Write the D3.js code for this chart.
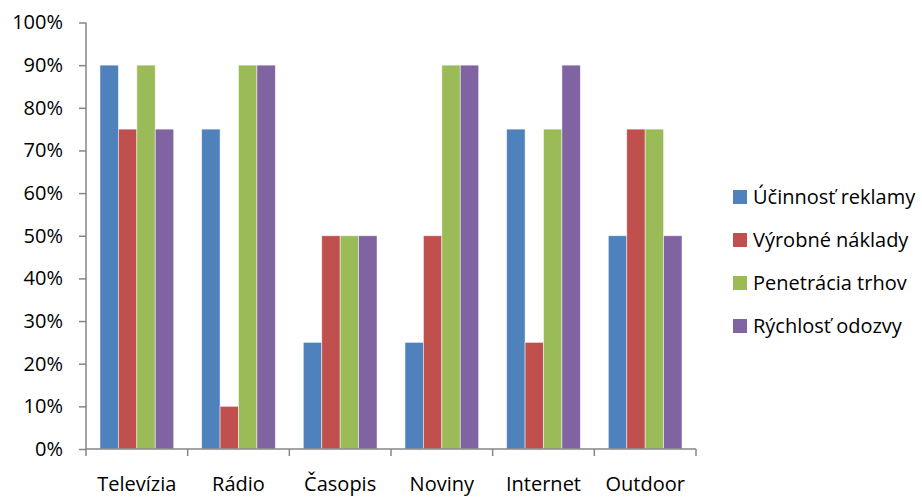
<!DOCTYPE html>
<html>
<head>
<meta charset="utf-8">
<script src="https://cdn.jsdelivr.net/npm/d3@7"></script>
<style>
  body { margin: 0; background: #fff; }
  svg text { font-family: "Open Sans", Lato, sans-serif; fill: #000; }
</style>
</head>
<body>
<svg id="chart" width="922" height="497"></svg>
<script>
const categories = ["Televízia", "Rádio", "Časopis", "Noviny", "Internet", "Outdoor"];
const seriesNames = ["Účinnosť reklamy", "Výrobné náklady", "Penetrácia trhov", "Rýchlosť odozvy"];
const seriesColors = ["#4F81BD", "#C0504D", "#9BBB59", "#8064A2"];
const ucinnost  = [0.90, 0.75, 0.25, 0.25, 0.75, 0.50];
const naklady   = [0.75, 0.10, 0.50, 0.50, 0.25, 0.75];
const penetracia = [0.90, 0.90, 0.50, 0.90, 0.75, 0.75];
const odozva    = [0.75, 0.90, 0.50, 0.90, 0.90, 0.50];
const yTicks = [0, 0.1, 0.2, 0.3, 0.4, 0.5, 0.6, 0.7, 0.8, 0.9, 1.0];

const seriesValues = [ucinnost, naklady, penetracia, odozva];
const rows = categories.map((c, i) => ({ cat: c, vals: seriesValues.map(s => s[i]) }));

const svg = d3.select("#chart");
const plotLeft = 86, plotRight = 696, plotTop = 22.5, plotBottom = 449;
const axisColor = "#868686";
const fontFamily = "'Open Sans', Lato, sans-serif";

const x = d3.scaleBand().domain(categories).range([plotLeft, plotRight]).paddingInner(0).paddingOuter(0);
const inner = d3.scaleBand().domain(d3.range(seriesNames.length)).range([0, x.bandwidth()]).paddingOuter(0.76).paddingInner(0);
const y = d3.scaleLinear().domain([0, 1]).range([plotBottom, plotTop]);

// bars
const groups = svg.append("g").selectAll("g").data(rows).join("g")
  .attr("transform", d => `translate(${x(d.cat)},0)`);
groups.selectAll("rect").data(d => d.vals.map((v, k) => ({ v, k }))).join("rect")
  .attr("x", d => inner(d.k))
  .attr("y", d => y(d.v))
  .attr("width", inner.bandwidth())
  .attr("height", d => y(0) - y(d.v))
  .attr("fill", d => seriesColors[d.k])
  .attr("stroke", "#ffffff")
  .attr("stroke-opacity", 0.6)
  .attr("stroke-width", 0.8);

// y axis
const yAxis = svg.append("g").attr("transform", `translate(${plotLeft},0)`)
  .call(d3.axisLeft(y).tickValues(yTicks).tickFormat(d3.format(".0%")).tickSize(7).tickPadding(16));
yAxis.selectAll("path, line").attr("stroke", axisColor).attr("stroke-width", 1.5);
yAxis.select(".domain").attr("d", `M0,${plotTop}V${plotBottom}`);
yAxis.selectAll("text").attr("font-size", 20).attr("font-family", fontFamily).attr("fill", "#000");

// x axis with ticks at category boundaries
const xAxis = svg.append("g").attr("transform", `translate(0,${plotBottom})`);
xAxis.append("line").attr("x1", plotLeft).attr("x2", plotRight).attr("stroke", axisColor).attr("stroke-width", 1.5);
const boundaries = categories.map(c => x(c)).concat([plotRight]);
xAxis.selectAll("line.tick").data(boundaries).join("line").attr("class", "tick")
  .attr("x1", d => d).attr("x2", d => d).attr("y1", 0).attr("y2", 7)
  .attr("stroke", axisColor).attr("stroke-width", 1.5);
xAxis.selectAll("text").data(categories).join("text")
  .attr("x", d => x(d) + x.bandwidth() / 2)
  .attr("y", 41.5)
  .attr("text-anchor", "middle")
  .attr("font-size", 20)
  .text(d => d);

// legend
const legend = svg.append("g").attr("transform", "translate(733,0)");
const legendRows = [197, 240, 283, 326];
const lg = legend.selectAll("g").data(seriesNames).join("g")
  .attr("transform", (d, i) => `translate(0,${legendRows[i]})`);
lg.append("rect").attr("x", 0).attr("y", -7).attr("width", 14).attr("height", 14)
  .attr("fill", (d, i) => seriesColors[i]);
lg.append("text").attr("x", 20).attr("y", 0).attr("dy", "0.35em")
  .attr("font-size", 20).text(d => d);
</script>
</body>
</html>
